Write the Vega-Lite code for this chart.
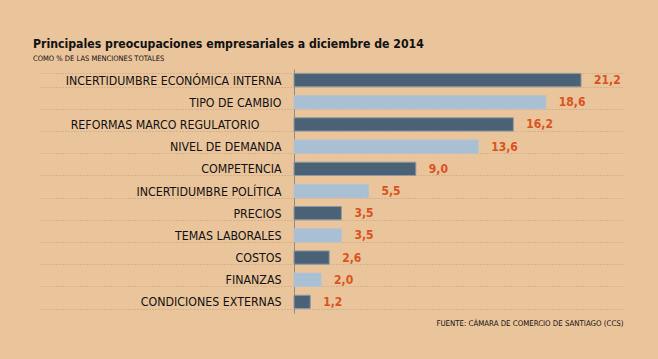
{
  "$schema": "https://vega.github.io/schema/vega-lite/v6.json",
  "autosize": {"type": "none"},
  "padding": {"left": 294, "top": 69, "right": 35, "bottom": 46},
  "width": 329,
  "height": 244,
  "background": "#eac49b",
  "title": {
    "text": "Principales preocupaciones empresariales a diciembre de 2014",
    "subtitle": "COMO % DE LAS MENCIONES TOTALES",
    "anchor": "start",
    "frame": "group",
    "dx": -261,
    "offset": 1,
    "font": "DejaVu Sans Condensed, sans-serif",
    "fontSize": 12.2,
    "fontWeight": "bold",
    "color": "#111111",
    "subtitleFont": "DejaVu Sans Condensed, sans-serif",
    "subtitleFontSize": 7.5,
    "subtitleColor": "#111111",
    "subtitlePadding": 4
  },
  "data": {
    "values": [
      {"category": "INCERTIDUMBRE ECONÓMICA INTERNA", "value": 21.2},
      {"category": "TIPO DE CAMBIO", "value": 18.6},
      {"category": "REFORMAS MARCO REGULATORIO", "value": 16.2},
      {"category": "NIVEL DE DEMANDA", "value": 13.6},
      {"category": "COMPETENCIA", "value": 9.0},
      {"category": "INCERTIDUMBRE POLÍTICA", "value": 5.5},
      {"category": "PRECIOS", "value": 3.5},
      {"category": "TEMAS LABORALES", "value": 3.5},
      {"category": "COSTOS", "value": 2.6},
      {"category": "FINANZAS", "value": 2.0},
      {"category": "CONDICIONES EXTERNAS", "value": 1.2}
    ]
  },
  "transform": [
    {"window": [{"op": "row_number", "as": "rank"}]}
  ],
  "encoding": {
    "y": {
      "field": "category",
      "type": "nominal",
      "sort": null,
      "scale": {"paddingInner": 0.4, "paddingOuter": 0.2},
      "axis": {
        "title": null,
        "domain": true,
        "domainColor": "#8c8c8c",
        "domainWidth": 1,
        "ticks": true,
        "tickBand": "extent",
        "tickSize": 254,
        "tickDash": [1, 2],
        "tickColor": "#bfa183",
        "tickWidth": 1,
        "grid": true,
        "gridDash": [1, 2],
        "gridColor": "#bfa183",
        "gridWidth": 1,
        "gridOpacity": 1,
        "labelPadding": -241,
        "labelLimit": 0,
        "labelFont": "DejaVu Sans Condensed, sans-serif",
        "labelFontSize": 12.3,
        "labelColor": "#111111",
        "labelExpr": "indexof(datum.label, 'REFORMAS') == 0 ? datum.label + '\u2002\u2002\u2002\u2002\u200b' : datum.label"
      }
    },
    "x": {
      "field": "value",
      "type": "quantitative",
      "scale": {"domain": [0, 24.3], "nice": false, "zero": true},
      "axis": {
        "title": "FUENTE: CÁMARA DE COMERCIO DE SANTIAGO (CCS)",
        "titleAnchor": "end",
        "titleAlign": "right",
        "titleFont": "DejaVu Sans Condensed, sans-serif",
        "titleFontSize": 7.8,
        "titleFontWeight": "normal",
        "titleColor": "#111111",
        "titlePadding": 6,
        "labels": false,
        "ticks": false,
        "domain": false,
        "grid": false
      }
    }
  },
  "layer": [
    {
      "mark": {"type": "bar", "strokeWidth": 1},
      "encoding": {
        "color": {
          "condition": {"test": "datum.rank % 2 == 1", "value": "#4a6176"},
          "value": "#a8bfd4"
        },
        "stroke": {
          "condition": {"test": "datum.rank % 2 == 1", "value": "#8e99a3"},
          "value": "#b4c3d0"
        }
      }
    },
    {
      "mark": {
        "type": "text",
        "align": "left",
        "baseline": "middle",
        "dx": 13,
        "font": "DejaVu Sans Condensed, sans-serif",
        "fontSize": 12,
        "fontWeight": "bold",
        "color": "#d9531e"
      },
      "encoding": {
        "text": {"field": "value", "type": "quantitative", "format": ".1f"}
      }
    }
  ],
  "config": {
    "view": {"stroke": null},
    "locale": {
      "number": {"decimal": ",", "thousands": ".", "grouping": [3], "currency": ["$", ""]}
    }
  }
}
